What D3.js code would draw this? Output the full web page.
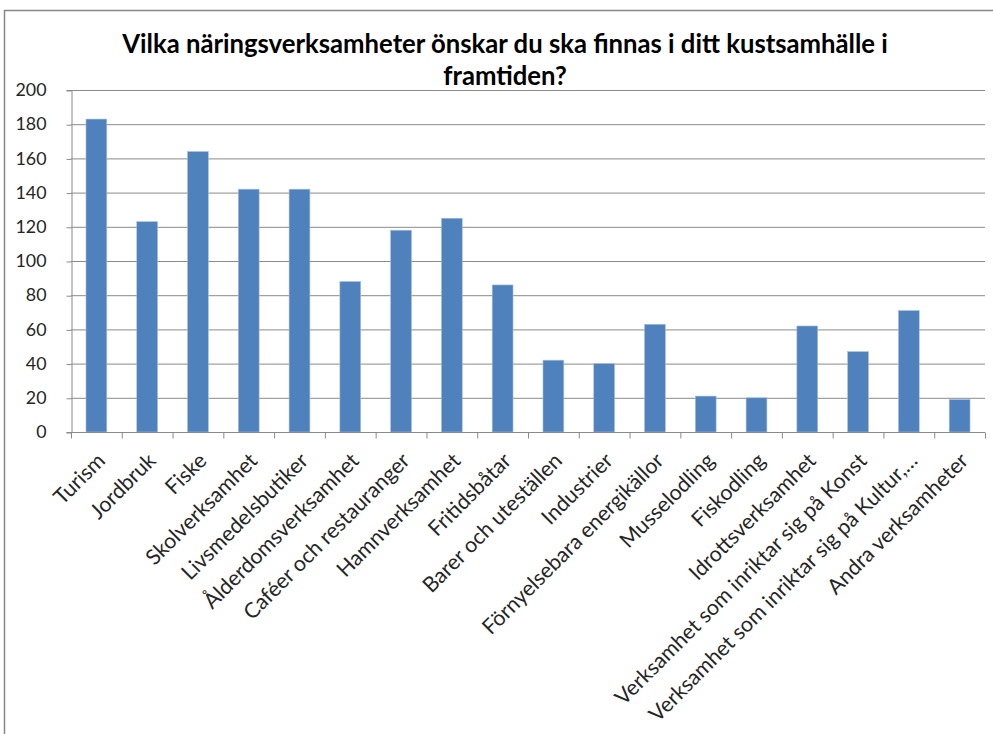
<!DOCTYPE html>
<html>
<head>
<meta charset="utf-8">
<script src="https://cdn.jsdelivr.net/npm/d3@7"></script>
<style>
  body { margin: 0; background: #fff; }
  svg { display: block; font-family: Lato, "Open Sans", sans-serif; }
</style>
</head>
<body>
<script>
const categories = [
  "Turism", "Jordbruk", "Fiske", "Skolverksamhet", "Livsmedelsbutiker",
  "Ålderdomsverksamhet", "Caféer och restauranger", "Hamnverksamhet",
  "Fritidsbåtar", "Barer och uteställen", "Industrier",
  "Förnyelsebara energikällor", "Musselodling", "Fiskodling",
  "Idrottsverksamhet", "Verksamhet som inriktar sig på Konst",
  "Verksamhet som inriktar sig på Kultur,…", "Andra verksamheter"
];
const values = [183, 123, 164, 142, 142, 88, 118, 125, 86, 42, 40, 63, 21, 20, 62, 47, 71, 19];
const yTicks = [0, 20, 40, 60, 80, 100, 120, 140, 160, 180, 200];
const titleLines = ["Vilka näringsverksamheter önskar du ska finnas i ditt kustsamhälle i", "framtiden?"];

const width = 993, height = 734;
const margin = {left: 71, right: 8, top: 90, bottom: 302};

const svg = d3.select("body").append("svg")
  .attr("width", width)
  .attr("height", height);

// font size that makes `str` about `target` px wide
function fitSize(str, target, weight) {
  const t = svg.append("text").attr("font-size", 20).attr("font-weight", weight || "normal").text(str);
  const w = t.node().getComputedTextLength();
  t.remove();
  return 20 * target / w;
}
const labelSize = fitSize("Förnyelsebara energikällor", 246);
const titleSize = fitSize(titleLines[0], 766, "bold");
const tickSize = fitSize("200", 31);

// outer chart frame
svg.append("path")
  .attr("d", `M4.5,${height} V10.5 H${width}`)
  .attr("fill", "none")
  .attr("stroke", "#878787")
  .attr("stroke-width", 1.5);

const x = d3.scaleBand()
  .domain(categories)
  .range([margin.left, width - margin.right])
  .paddingInner(0.59)
  .paddingOuter(0.295);

const y = d3.scaleLinear()
  .domain([0, 200])
  .range([height - margin.bottom, margin.top]);

// gridlines
svg.append("g")
  .selectAll("line")
  .data(yTicks.filter(d => d > 0))
  .join("line")
  .attr("x1", margin.left)
  .attr("x2", width - margin.right)
  .attr("y1", d => y(d) + 0.5)
  .attr("y2", d => y(d) + 0.5)
  .attr("stroke", "#8a8a8a")
  .attr("stroke-width", 1);

// y axis
const yAxis = svg.append("g")
  .attr("transform", `translate(${margin.left + 0.5},0)`)
  .call(d3.axisLeft(y).tickValues(yTicks).tickSize(5).tickPadding(20));
yAxis.select(".domain").attr("stroke", "#8a8a8a");
yAxis.selectAll(".tick line").attr("stroke", "#8a8a8a").attr("transform", "translate(0,0.5)");
yAxis.selectAll("text")
  .attr("font-size", tickSize)
  .attr("fill", "#262626")
  .attr("font-family", "Lato, sans-serif");

// bars
svg.append("g")
  .selectAll("rect")
  .data(values)
  .join("rect")
  .attr("x", (d, i) => x(categories[i]))
  .attr("y", d => y(d))
  .attr("width", x.bandwidth())
  .attr("height", d => y(0) - y(d))
  .attr("fill", "#4f81bd")
  .attr("stroke", "#a7c0de")
  .attr("stroke-width", 0.6);

// x axis line and ticks between categories
const bottom = y(0) + 0.5;
svg.append("line")
  .attr("x1", margin.left)
  .attr("x2", width - margin.right)
  .attr("y1", bottom).attr("y2", bottom)
  .attr("stroke", "#8a8a8a");
const step = x.step();
svg.append("g")
  .selectAll("line")
  .data(d3.range(categories.length + 1))
  .join("line")
  .attr("x1", i => margin.left + i * step + 0.5)
  .attr("x2", i => margin.left + i * step + 0.5)
  .attr("y1", bottom)
  .attr("y2", bottom + 6)
  .attr("stroke", "#8a8a8a");

// category labels
svg.append("g")
  .selectAll("text")
  .data(categories)
  .join("text")
  .attr("transform", d => `translate(${x(d) + x.bandwidth() / 2 + 10},462) rotate(-45)`)
  .attr("text-anchor", "end")
  .attr("font-size", labelSize)
  .attr("fill", "#262626")
  .text(d => d);

// title
svg.append("g")
  .selectAll("text")
  .data(titleLines)
  .join("text")
  .attr("x", 505)
  .attr("y", (d, i) => 53 + i * 32)
  .attr("text-anchor", "middle")
  .attr("font-size", titleSize)
  .attr("font-weight", "bold")
  .attr("fill", "#000")
  .text(d => d);
</script>
</body>
</html>
